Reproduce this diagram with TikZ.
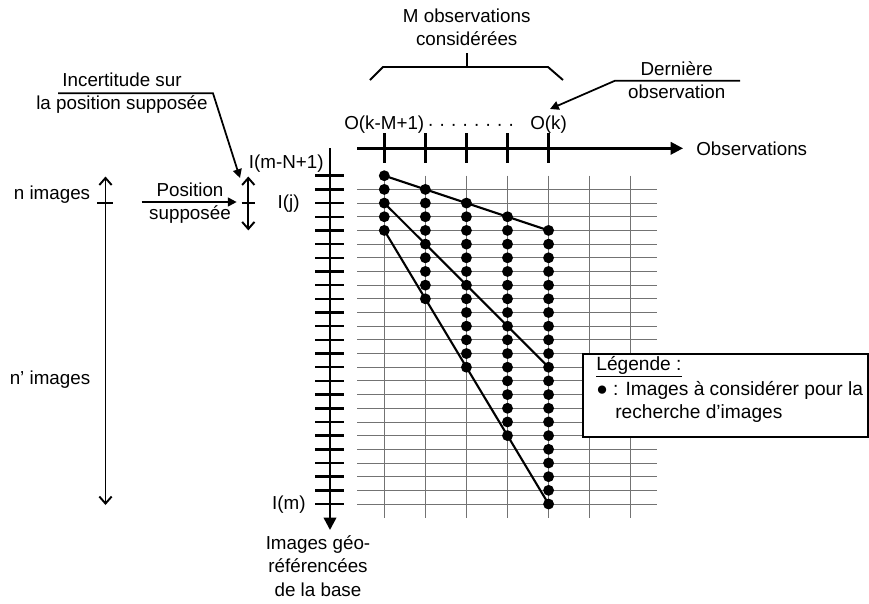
\documentclass[tikz,border=0pt]{standalone}
\usepackage{fontspec}
\setmainfont{Liberation Sans}
\usetikzlibrary{arrows.meta}
\tikzset{
        every node/.style={font=\fontsize{10.7}{13.4}\selectfont, inner sep=0pt},
        grille/.style={draw=black!55, line width=0.5pt},
        axe/.style={line width=1.4pt, -{Triangle[length=7pt, width=7pt]}},
        graduation/.style={line width=1.4pt},
        obs/.style={circle, fill=black, inner sep=0pt, minimum size=6.2pt},
        lien/.style={line width=1.2pt},
        accolade/.style={line width=1.1pt},
        fleche/.style={line width=1pt, -{Triangle[length=5pt, width=5pt]}},
        etendue/.style={line width=1.1pt, {Straight Barb[length=4pt, width=7pt]}-{Straight Barb[length=4pt, width=7pt]}},
        bloc/.style={align=center},
        legende/.style={draw=black, line width=1.2pt, fill=white},
        petit/.style={font=\fontsize{10.9}{13.4}\selectfont}
          }

\begin{document}
\begin{tikzpicture}[x=0.02cm, y=-0.02cm]
        \useasboundingbox (0,0) rectangle (869,603);
        % grille
        \foreach \c in {0,...,6}
          \foreach \r in {0,...,25}
            \coordinate (g-\c-\r) at (384.3+41.07*\c, 175.7+13.68*\r);
        \foreach \r in {1,...,24}
          \draw[grille] (357,175.7+13.68*\r) -- (657,175.7+13.68*\r);
        \foreach \c in {0,...,6}
          \draw[grille] (g-\c-0) -- (g-\c-25);
        % axes
        \coordinate (origV) at (330,148);
        \coordinate (finV) at (330,530);
        \coordinate (origH) at (357,148.3);
        \coordinate (finH) at (683,148.3);
        \draw[axe] (origV) -- (finV);
        \draw[axe] (origH) -- (finH);
        \foreach \r in {0,...,24}
          \draw[graduation] (315,175.7+13.68*\r) -- (344,175.7+13.68*\r);
        \foreach \c in {0,...,4}
          \draw[graduation] (384.3+41.07*\c,133) -- (384.3+41.07*\c,163);
        % observations
        \foreach \c in {0,...,4} {
          \pgfmathtruncatemacro\fin{4+5*\c}
          \foreach \r in {\c,...,\fin}
            \node[obs] (d-\c-\r) at (g-\c-\r) {};
        }
        \draw[lien] (d-0-0.center) -- (d-4-4.center);
        \draw[lien] (d-0-2.center) -- (d-4-14.center);
        \draw[lien] (d-0-4.center) -- (d-4-24.center);
        % textes
        \node[anchor=east] (imn) at (324,164) {I(m-N+1)};
        \node[anchor=east] (ij) at (300,204) {I(j)};
        \node[anchor=east] (im) at (306,505) {I(m)};
        \node[bloc] (base) at (318,566) {Images géo-\\référencées\\de la base};
        \node[anchor=west] (obsx) at (696,148.3) {Observations};
        \node (o1) at (384.3,125) {O(k-M+1)};
        \node (ok) at (548.6,125) {O(k)};
        \node (pts) at (471,127.5) {· · · · · · · ·};
        \node[bloc] (mobs) at (466.7,27.5) {M observations\\considérées};
        \node[bloc] (dern) at (676.7,80) {Dernière\\observation};
        \node[bloc] (incert) at (122,93.3) {Incertitude sur\\la position supposée};
        \node[bloc] (pos) at (190,203.3) {Position\\supposée};
        \node (nimg) at (52,195) {n images};
        \node (nimg2) at (50,380) {n’ images};
        % accolade
        \coordinate (acc-g) at (370,80);
        \coordinate (acc-d) at (563,80);
        \coordinate (acc-m) at (466.7,67);
        \draw[accolade] (acc-g) -- (383,67) -- (548,67) -- (acc-d);
        \draw[accolade] (acc-m) -- (466.7,53);
        % fleches
        \coordinate (dern-pointe) at (550,109);
        \draw[fleche] (740,80.7) -- (615,80.7) -- (dern-pointe);
        \coordinate (inc-pointe) at (240,178);
        \draw[fleche] (58,93.3) -- (213,93.3) -- (inc-pointe);
        \coordinate (pos-a) at (141.7,202);
        \coordinate (pos-b) at (236.7,202);
        \draw[fleche] (pos-a) -- (pos-b);
        \coordinate (n-haut) at (105.5,176.5);
        \coordinate (n-bas) at (105.5,505);
        \draw[etendue] (n-haut) -- (n-bas);
        \draw[lien] (97,203.1) -- (113,203.1);
        \coordinate (u-haut) at (248.3,176.5);
        \coordinate (u-bas) at (248.3,230.4);
        \draw[etendue] (u-haut) -- (u-bas);
        \draw[lien] (241.7,203.1) -- (255,203.1);
        % legende
        \draw[legende] (583.3,354) rectangle (868,436.7);
        \node[petit, anchor=west] (leg) at (596,366.7) {\underline{Légende :}};
        \node[petit, anchor=west] (leg1) at (596,390) {● : Images à considérer pour la};
        \node[petit, anchor=west] (leg2) at (615,413.3) {recherche d’images};
\end{tikzpicture}
\end{document}
